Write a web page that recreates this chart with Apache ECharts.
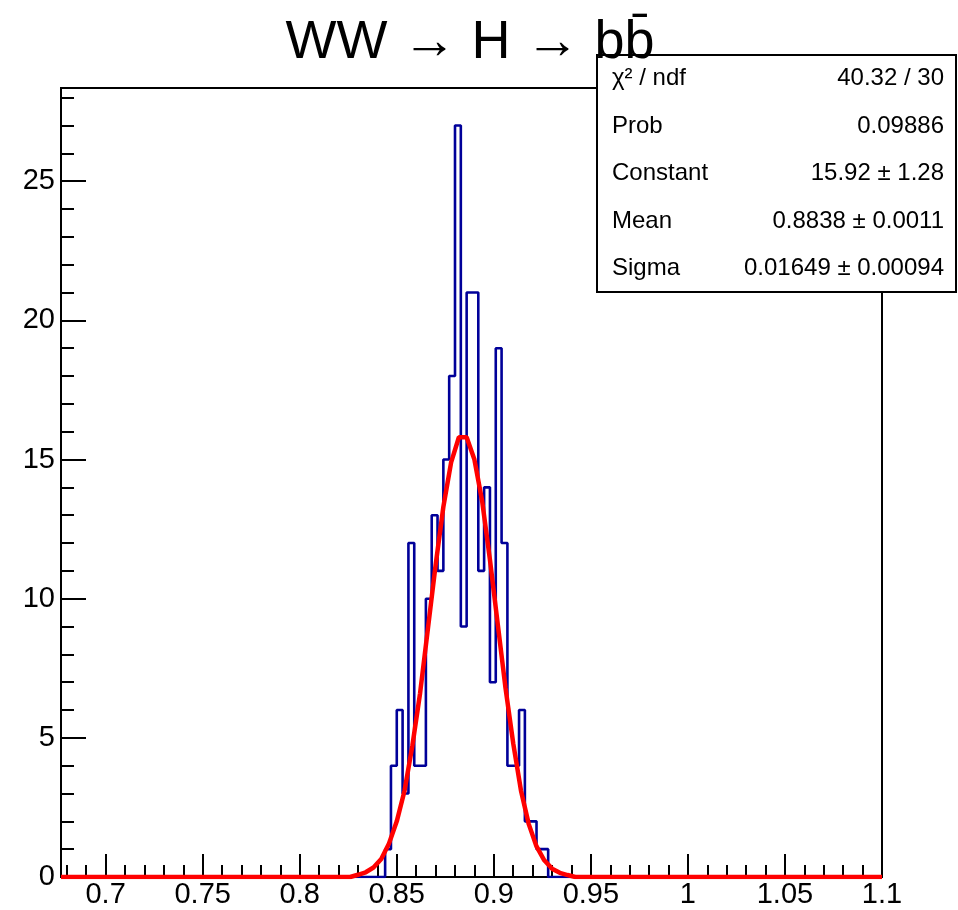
<!DOCTYPE html>
<html><head><meta charset="utf-8">
<script src="https://cdn.jsdelivr.net/npm/echarts@6/dist/echarts.min.js"></script>
<style>html,body{margin:0;padding:0;background:#fff}#c{width:958px;height:910px}</style>
</head><body><div id="c"></div>
<script>
// ---- data ----
const titleText = 'WW \u2192 H \u2192 bb\u0304';
const xRange = [0.677, 1.1];
const yRange = [0, 28.35];
const binWidth = 0.003;
const binLowEdges = [0.844,0.847,0.850,0.853,0.856,0.859,0.862,0.865,0.868,0.871,0.874,0.877,0.880,0.883,
                     0.886,0.889,0.892,0.895,0.898,0.901,0.904,0.907,0.910,0.913,0.916,0.919,0.922,0.925];
const binCounts   = [1,4,6,3,12,4,4,10,13,11,15,18,27,9,21,21,11,14,7,19,12,4,4,6,2,2,1,1];
const fitX = [0.677,0.826,0.830,0.834,0.838,0.842,0.846,0.850,0.854,0.858,0.862,0.866,0.870,0.874,0.878,0.882,0.886,
              0.890,0.894,0.898,0.902,0.906,0.910,0.914,0.918,0.922,0.926,0.930,0.934,0.938,0.942,1.1];
const fitY = [0,0,0.08,0.17,0.34,0.65,1.2,2.0,3.1,4.7,6.6,8.9,11.2,13.3,14.9,15.8,15.8,
              15.0,13.5,11.4,9.1,6.8,4.8,3.1,1.9,1.1,0.6,0.3,0.15,0.07,0,0];
const xMajorTicks = [0.7,0.75,0.8,0.85,0.9,0.95,1.0,1.05,1.1];
const xTickLabels = ['0.7','0.75','0.8','0.85','0.9','0.95','1','1.05','1.1'];
const xMinorTicks = [0.68,0.69,0.70,0.71,0.72,0.73,0.74,0.75,0.76,0.77,0.78,0.79,0.80,0.81,0.82,0.83,0.84,0.85,
                     0.86,0.87,0.88,0.89,0.90,0.91,0.92,0.93,0.94,0.95,0.96,0.97,0.98,0.99,1.00,1.01,1.02,1.03,
                     1.04,1.05,1.06,1.07,1.08,1.09];
const yMajorTicks = [0,5,10,15,20,25];
const yTickLabels = ['0','5','10','15','20','25'];
const yMinorTicks = [1,2,3,4,6,7,8,9,11,12,13,14,16,17,18,19,21,22,23,24,26,27,28];
const statLabels = ['\u03c7\u00b2 / ndf','Prob','Constant','Mean','Sigma'];
const statValues = ['40.32 / 30','0.09886','15.92 \u00b1 1.28','0.8838 \u00b1 0.0011','0.01649 \u00b1 0.00094'];

// ---- build histogram outline from bins ----
const histLine = [[xRange[0], 0], [binLowEdges[0], 0]];
binLowEdges.forEach((lo, i) => {
  histLine.push([lo, binCounts[i]]);
  histLine.push([lo + binWidth, binCounts[i]]);
});
histLine.push([binLowEdges[binLowEdges.length - 1] + binWidth, 0]);
histLine.push([xRange[1], 0]);
const fitLine = fitX.map((x, i) => [x, fitY[i]]);

const FONT = '"Liberation Sans", Arial, Helvetica, sans-serif';
const G = {left: 61, right: 76, top: 88, bottom: 33};

const chart = echarts.init(document.getElementById('c'), null, {renderer: 'canvas'});
function nearestLabel(v, ticks, labels) {
  let best = 0;
  ticks.forEach((t, i) => { if (Math.abs(t - v) < Math.abs(ticks[best] - v)) best = i; });
  return labels[best];
}
const statRows = statLabels.length;
const box = {x: 597, y: 55, w: 359, h: 237};
const rowH = box.h / statRows;
const statGraphics = [{
  type: 'rect', z: 10,
  shape: {x: box.x, y: box.y, width: box.w, height: box.h},
  style: {fill: '#fff', stroke: '#000', lineWidth: 2}
}];
statLabels.forEach((l, i) => {
  const cy = box.y + rowH * (i + 0.5);
  statGraphics.push({type: 'text', z: 11, x: 612, y: cy,
    style: {text: l, font: '24px ' + FONT, fill: '#000', textAlign: 'left', textVerticalAlign: 'middle'}});
  statGraphics.push({type: 'text', z: 11, x: 944, y: cy,
    style: {text: statValues[i], font: '24px ' + FONT, fill: '#000', textAlign: 'right', textVerticalAlign: 'middle'}});
});

chart.setOption({
  animation: false,
  backgroundColor: '#fff',
  grid: {left: G.left, right: G.right, top: G.top, bottom: G.bottom, show: true,
         borderColor: '#000', borderWidth: 2, backgroundColor: 'transparent'},
  xAxis: [{
    type: 'value', min: xRange[0], max: xRange[1], position: 'bottom',
    axisLine: {show: true, onZero: false, lineStyle: {color: '#000', width: 2}},
    axisTick: {show: true, inside: true, length: 23, customValues: xMajorTicks, lineStyle: {color: '#000', width: 2}},
    axisLabel: {show: true, customValues: xMajorTicks, margin: 3, color: '#000',
      fontFamily: FONT, fontSize: 29, formatter: v => nearestLabel(v, xMajorTicks, xTickLabels)},
    splitLine: {show: false}
  }, {
    type: 'value', min: xRange[0], max: xRange[1], position: 'bottom',
    axisLine: {show: false},
    axisTick: {show: true, inside: true, length: 12, customValues: xMinorTicks, lineStyle: {color: '#000', width: 2}},
    axisLabel: {show: false}, splitLine: {show: false}
  }],
  yAxis: [{
    type: 'value', min: yRange[0], max: yRange[1], position: 'left',
    axisLine: {show: true, onZero: false, lineStyle: {color: '#000', width: 2}},
    axisTick: {show: true, inside: true, length: 25, customValues: yMajorTicks, lineStyle: {color: '#000', width: 2}},
    axisLabel: {show: true, customValues: yMajorTicks, margin: 6, color: '#000',
      fontFamily: FONT, fontSize: 29, formatter: v => nearestLabel(v, yMajorTicks, yTickLabels)},
    splitLine: {show: false}
  }, {
    type: 'value', min: yRange[0], max: yRange[1], position: 'left',
    axisLine: {show: false},
    axisTick: {show: true, inside: true, length: 13, customValues: yMinorTicks, lineStyle: {color: '#000', width: 2}},
    axisLabel: {show: false}, splitLine: {show: false}
  }],
  series: [{
    type: 'line', xAxisIndex: 0, yAxisIndex: 0, data: histLine, symbol: 'none',
    lineStyle: {color: '#000099', width: 2.6}, z: 3, silent: true
  }, {
    type: 'line', xAxisIndex: 0, yAxisIndex: 0, data: fitLine, symbol: 'none', smooth: false,
    lineStyle: {color: '#ff0000', width: 4.5}, z: 4, silent: true
  }],
  graphic: statGraphics.concat([{
    type: 'text', z: 20, x: 470, y: 43,
    style: {text: titleText, font: '54px ' + FONT, fill: '#000', textAlign: 'center', textVerticalAlign: 'middle'}
  }])
});
</script></body></html>
